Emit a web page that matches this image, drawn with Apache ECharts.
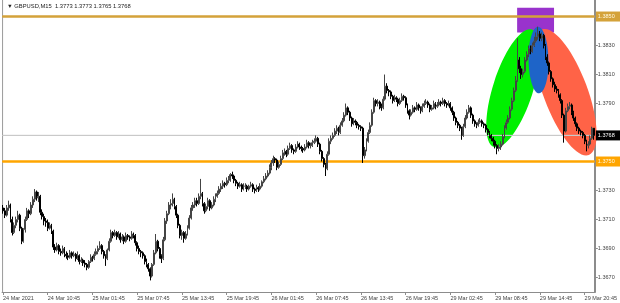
<!DOCTYPE html>
<html><head><meta charset="utf-8">
<script src="https://cdn.jsdelivr.net/npm/echarts@6/dist/echarts.min.js"></script>
<style>html,body{margin:0;padding:0;background:#fff}#c{width:620px;height:303px}</style>
</head><body><div id="c"></div>
<script>
const symbol = 'GBPUSD,M15';
const tickLabels = ['24 Mar 2021','24 Mar 10:45','25 Mar 01:45','25 Mar 07:45','25 Mar 13:45','25 Mar 19:45','26 Mar 01:45','26 Mar 07:45','26 Mar 13:45','26 Mar 19:45','29 Mar 02:45','29 Mar 08:45','29 Mar 14:45','29 Mar 20:45'];
const labelStep = 24;
const priceTicks = [1.3670, 1.3690, 1.3710, 1.3730, 1.3790, 1.3810, 1.3830];
const resistanceLevel = 1.3850;
const supportLevel = 1.3750;
const bidPrice = 1.3768;
// [open, close, low, high]
const ohlc = [
[1.3718,1.3716,1.3714,1.3720],[1.3716,1.3713,1.3711,1.3718],[1.3713,1.3718,1.3712,1.3720],[1.3718,1.3720,1.3716,1.3723],[1.3720,1.3710,1.3708,1.3721],
[1.3710,1.3701,1.3699,1.3712],[1.3701,1.3706,1.3700,1.3708],[1.3706,1.3710,1.3704,1.3712],[1.3710,1.3713,1.3708,1.3716],[1.3713,1.3704,1.3702,1.3714],
[1.3704,1.3695,1.3693,1.3705],[1.3695,1.3703,1.3694,1.3704],[1.3703,1.3710,1.3701,1.3712],[1.3710,1.3716,1.3709,1.3718],[1.3716,1.3714,1.3711,1.3717],
[1.3714,1.3720,1.3713,1.3722],[1.3720,1.3724,1.3718,1.3726],[1.3724,1.3729,1.3722,1.3731],[1.3729,1.3725,1.3723,1.3730],[1.3725,1.3726,1.3722,1.3729],
[1.3726,1.3715,1.3713,1.3727],[1.3715,1.3712,1.3710,1.3717],[1.3712,1.3709,1.3706,1.3714],[1.3709,1.3708,1.3705,1.3711],[1.3708,1.3704,1.3702,1.3710],
[1.3704,1.3706,1.3703,1.3708],[1.3706,1.3702,1.3700,1.3707],[1.3702,1.3691,1.3689,1.3703],[1.3691,1.3689,1.3687,1.3693],[1.3689,1.3692,1.3688,1.3694],
[1.3692,1.3688,1.3686,1.3693],[1.3688,1.3687,1.3685,1.3690],[1.3687,1.3690,1.3686,1.3692],[1.3690,1.3686,1.3684,1.3691],[1.3686,1.3685,1.3683,1.3688],
[1.3685,1.3684,1.3682,1.3687],[1.3684,1.3687,1.3683,1.3689],[1.3687,1.3685,1.3683,1.3688],[1.3685,1.3686,1.3684,1.3688],[1.3686,1.3683,1.3681,1.3687],
[1.3683,1.3685,1.3682,1.3688],[1.3685,1.3681,1.3679,1.3686],[1.3681,1.3682,1.3680,1.3684],[1.3682,1.3680,1.3678,1.3683],[1.3680,1.3679,1.3677,1.3682],
[1.3679,1.3677,1.3675,1.3680],[1.3677,1.3681,1.3676,1.3682],[1.3681,1.3684,1.3680,1.3686],[1.3684,1.3683,1.3681,1.3685],[1.3683,1.3686,1.3682,1.3688],
[1.3686,1.3688,1.3685,1.3690],[1.3688,1.3690,1.3686,1.3692],[1.3690,1.3692,1.3689,1.3695],[1.3692,1.3688,1.3686,1.3693],[1.3688,1.3685,1.3683,1.3689],
[1.3685,1.3683,1.3678,1.3686],[1.3683,1.3689,1.3682,1.3690],[1.3689,1.3695,1.3688,1.3697],[1.3695,1.3701,1.3694,1.3703],[1.3701,1.3699,1.3697,1.3702],
[1.3699,1.3701,1.3698,1.3703],[1.3701,1.3698,1.3696,1.3702],[1.3698,1.3700,1.3697,1.3702],[1.3700,1.3696,1.3694,1.3701],[1.3696,1.3698,1.3695,1.3700],
[1.3698,1.3695,1.3693,1.3699],[1.3695,1.3699,1.3694,1.3701],[1.3699,1.3698,1.3696,1.3700],[1.3698,1.3697,1.3695,1.3699],[1.3697,1.3700,1.3696,1.3702],
[1.3700,1.3699,1.3697,1.3701],[1.3699,1.3694,1.3692,1.3700],[1.3694,1.3690,1.3688,1.3695],[1.3690,1.3688,1.3686,1.3692],[1.3688,1.3687,1.3684,1.3689],
[1.3687,1.3685,1.3683,1.3688],[1.3685,1.3681,1.3679,1.3686],[1.3681,1.3679,1.3677,1.3683],[1.3679,1.3676,1.3674,1.3680],[1.3676,1.3671,1.3668,1.3677],
[1.3671,1.3679,1.3670,1.3680],[1.3679,1.3687,1.3678,1.3689],[1.3687,1.3695,1.3686,1.3700],[1.3695,1.3690,1.3688,1.3696],[1.3690,1.3685,1.3683,1.3691],
[1.3685,1.3683,1.3680,1.3686],[1.3683,1.3696,1.3682,1.3698],[1.3696,1.3709,1.3695,1.3711],[1.3709,1.3714,1.3707,1.3716],[1.3714,1.3720,1.3713,1.3722],
[1.3720,1.3721,1.3717,1.3724],[1.3721,1.3724,1.3719,1.3728],[1.3724,1.3719,1.3717,1.3725],[1.3719,1.3713,1.3711,1.3720],[1.3713,1.3706,1.3704,1.3714],
[1.3706,1.3699,1.3697,1.3707],[1.3699,1.3701,1.3696,1.3703],[1.3701,1.3697,1.3694,1.3702],[1.3697,1.3700,1.3696,1.3702],[1.3700,1.3704,1.3699,1.3706],
[1.3704,1.3711,1.3703,1.3713],[1.3711,1.3718,1.3710,1.3720],[1.3718,1.3720,1.3716,1.3722],[1.3720,1.3723,1.3718,1.3725],[1.3723,1.3721,1.3719,1.3725],
[1.3721,1.3726,1.3720,1.3728],[1.3726,1.3728,1.3724,1.3738],[1.3728,1.3721,1.3719,1.3729],[1.3721,1.3716,1.3714,1.3722],[1.3716,1.3719,1.3715,1.3721],
[1.3719,1.3723,1.3717,1.3725],[1.3723,1.3718,1.3716,1.3724],[1.3718,1.3720,1.3717,1.3722],[1.3720,1.3724,1.3719,1.3726],[1.3724,1.3726,1.3722,1.3728],
[1.3726,1.3728,1.3725,1.3730],[1.3728,1.3731,1.3727,1.3733],[1.3731,1.3733,1.3729,1.3735],[1.3733,1.3735,1.3731,1.3737],[1.3735,1.3734,1.3732,1.3736],
[1.3734,1.3737,1.3733,1.3739],[1.3737,1.3738,1.3735,1.3740],[1.3738,1.3741,1.3736,1.3742],[1.3741,1.3740,1.3738,1.3743],[1.3740,1.3737,1.3735,1.3741],
[1.3737,1.3735,1.3733,1.3738],[1.3735,1.3733,1.3731,1.3736],[1.3733,1.3734,1.3732,1.3736],[1.3734,1.3731,1.3729,1.3735],[1.3731,1.3733,1.3730,1.3735],
[1.3733,1.3733,1.3731,1.3735],[1.3733,1.3731,1.3729,1.3734],[1.3731,1.3733,1.3730,1.3734],[1.3733,1.3734,1.3732,1.3736],[1.3734,1.3731,1.3729,1.3735],
[1.3731,1.3730,1.3728,1.3732],[1.3730,1.3732,1.3729,1.3734],[1.3732,1.3731,1.3729,1.3733],[1.3731,1.3733,1.3730,1.3735],[1.3733,1.3736,1.3732,1.3737],
[1.3736,1.3738,1.3735,1.3740],[1.3738,1.3740,1.3737,1.3742],[1.3740,1.3742,1.3739,1.3744],[1.3742,1.3746,1.3741,1.3748],[1.3746,1.3749,1.3744,1.3751],
[1.3749,1.3752,1.3747,1.3754],[1.3752,1.3751,1.3749,1.3753],[1.3751,1.3746,1.3744,1.3752],[1.3746,1.3748,1.3745,1.3750],[1.3748,1.3752,1.3747,1.3754],
[1.3752,1.3756,1.3751,1.3758],[1.3756,1.3757,1.3754,1.3759],[1.3757,1.3755,1.3753,1.3758],[1.3755,1.3759,1.3754,1.3761],[1.3759,1.3761,1.3758,1.3763],
[1.3761,1.3758,1.3756,1.3762],[1.3758,1.3757,1.3755,1.3759],[1.3757,1.3760,1.3756,1.3762],[1.3760,1.3762,1.3759,1.3764],[1.3762,1.3760,1.3758,1.3763],
[1.3760,1.3759,1.3757,1.3761],[1.3759,1.3758,1.3756,1.3760],[1.3758,1.3760,1.3757,1.3762],[1.3760,1.3763,1.3759,1.3765],[1.3763,1.3761,1.3759,1.3764],
[1.3761,1.3761,1.3759,1.3763],[1.3761,1.3763,1.3760,1.3765],[1.3763,1.3764,1.3762,1.3766],[1.3764,1.3766,1.3763,1.3768],[1.3766,1.3762,1.3760,1.3767],
[1.3762,1.3757,1.3755,1.3763],[1.3757,1.3752,1.3750,1.3758],[1.3752,1.3748,1.3746,1.3753],[1.3748,1.3745,1.3740,1.3749],[1.3745,1.3755,1.3744,1.3757],
[1.3755,1.3764,1.3754,1.3766],[1.3764,1.3766,1.3762,1.3768],[1.3766,1.3768,1.3765,1.3770],[1.3768,1.3771,1.3767,1.3773],[1.3771,1.3773,1.3769,1.3775],
[1.3773,1.3770,1.3768,1.3774],[1.3770,1.3775,1.3769,1.3777],[1.3775,1.3778,1.3774,1.3780],[1.3778,1.3782,1.3777,1.3784],[1.3782,1.3787,1.3781,1.3790],
[1.3787,1.3784,1.3782,1.3788],[1.3784,1.3780,1.3778,1.3785],[1.3780,1.3776,1.3774,1.3781],[1.3776,1.3778,1.3775,1.3780],[1.3778,1.3777,1.3775,1.3779],
[1.3777,1.3775,1.3773,1.3778],[1.3775,1.3774,1.3772,1.3776],[1.3774,1.3773,1.3771,1.3775],[1.3773,1.3754,1.3749,1.3774],[1.3754,1.3758,1.3752,1.3760],
[1.3758,1.3764,1.3757,1.3766],[1.3764,1.3770,1.3763,1.3772],[1.3770,1.3775,1.3769,1.3777],[1.3775,1.3784,1.3774,1.3786],[1.3784,1.3792,1.3783,1.3794],
[1.3792,1.3790,1.3788,1.3793],[1.3790,1.3791,1.3788,1.3793],[1.3791,1.3788,1.3786,1.3792],[1.3788,1.3787,1.3785,1.3790],[1.3787,1.3793,1.3786,1.3795],
[1.3793,1.3802,1.3792,1.3810],[1.3802,1.3799,1.3797,1.3804],[1.3799,1.3798,1.3795,1.3800],[1.3798,1.3795,1.3793,1.3799],[1.3795,1.3792,1.3790,1.3796],
[1.3792,1.3794,1.3791,1.3796],[1.3794,1.3793,1.3791,1.3795],[1.3793,1.3790,1.3788,1.3794],[1.3790,1.3792,1.3789,1.3794],[1.3792,1.3795,1.3791,1.3797],
[1.3795,1.3794,1.3792,1.3796],[1.3794,1.3789,1.3787,1.3795],[1.3789,1.3785,1.3783,1.3790],[1.3785,1.3782,1.3779,1.3786],[1.3782,1.3784,1.3781,1.3786],
[1.3784,1.3787,1.3783,1.3789],[1.3787,1.3786,1.3784,1.3788],[1.3786,1.3789,1.3785,1.3791],[1.3789,1.3787,1.3785,1.3790],[1.3787,1.3785,1.3783,1.3788],
[1.3785,1.3788,1.3784,1.3790],[1.3788,1.3790,1.3787,1.3792],[1.3790,1.3791,1.3789,1.3793],[1.3791,1.3789,1.3787,1.3792],[1.3789,1.3786,1.3784,1.3790],
[1.3786,1.3787,1.3785,1.3789],[1.3787,1.3790,1.3786,1.3792],[1.3790,1.3788,1.3786,1.3791],[1.3788,1.3789,1.3787,1.3791],[1.3789,1.3791,1.3788,1.3793],
[1.3791,1.3790,1.3788,1.3792],[1.3790,1.3792,1.3789,1.3794],[1.3792,1.3790,1.3788,1.3793],[1.3790,1.3789,1.3787,1.3791],[1.3789,1.3790,1.3788,1.3792],
[1.3790,1.3787,1.3785,1.3791],[1.3787,1.3784,1.3782,1.3788],[1.3784,1.3780,1.3778,1.3785],[1.3780,1.3777,1.3775,1.3781],[1.3777,1.3775,1.3773,1.3778],
[1.3775,1.3773,1.3771,1.3776],[1.3773,1.3768,1.3765,1.3774],[1.3768,1.3774,1.3767,1.3776],[1.3774,1.3780,1.3773,1.3782],[1.3780,1.3784,1.3779,1.3786],
[1.3784,1.3787,1.3783,1.3789],[1.3787,1.3782,1.3780,1.3788],[1.3782,1.3778,1.3776,1.3783],[1.3778,1.3776,1.3774,1.3779],[1.3776,1.3775,1.3773,1.3777],
[1.3775,1.3777,1.3774,1.3779],[1.3777,1.3778,1.3776,1.3780],[1.3778,1.3776,1.3774,1.3779],[1.3776,1.3775,1.3773,1.3777],[1.3775,1.3772,1.3770,1.3776],
[1.3772,1.3770,1.3768,1.3773],[1.3770,1.3768,1.3766,1.3771],[1.3768,1.3766,1.3764,1.3769],[1.3766,1.3764,1.3761,1.3767],[1.3764,1.3761,1.3759,1.3765],
[1.3761,1.3759,1.3755,1.3762],[1.3759,1.3760,1.3757,1.3762],[1.3760,1.3762,1.3758,1.3764],[1.3762,1.3767,1.3761,1.3769],[1.3767,1.3773,1.3766,1.3775],
[1.3773,1.3777,1.3772,1.3779],[1.3777,1.3780,1.3776,1.3782],[1.3780,1.3786,1.3779,1.3788],[1.3786,1.3792,1.3785,1.3794],[1.3792,1.3799,1.3791,1.3801],
[1.3799,1.3806,1.3798,1.3809],[1.3806,1.3820,1.3805,1.3835],[1.3820,1.3814,1.3811,1.3822],[1.3814,1.3810,1.3807,1.3816],[1.3810,1.3812,1.3808,1.3814],
[1.3812,1.3820,1.3811,1.3822],[1.3820,1.3824,1.3819,1.3826],[1.3824,1.3828,1.3822,1.3830],[1.3828,1.3826,1.3824,1.3830],[1.3826,1.3830,1.3825,1.3832],
[1.3830,1.3833,1.3829,1.3836],[1.3833,1.3836,1.3832,1.3839],[1.3836,1.3838,1.3834,1.3843],[1.3838,1.3835,1.3833,1.3840],[1.3835,1.3837,1.3833,1.3839],
[1.3837,1.3830,1.3828,1.3838],[1.3830,1.3822,1.3820,1.3831],[1.3822,1.3818,1.3816,1.3824],[1.3818,1.3812,1.3810,1.3819],[1.3812,1.3807,1.3805,1.3813],
[1.3807,1.3803,1.3801,1.3808],[1.3803,1.3800,1.3798,1.3805],[1.3800,1.3799,1.3797,1.3802],[1.3799,1.3796,1.3794,1.3800],[1.3796,1.3792,1.3790,1.3797],
[1.3792,1.3782,1.3780,1.3793],[1.3782,1.3771,1.3763,1.3783],[1.3771,1.3785,1.3770,1.3787],[1.3785,1.3788,1.3784,1.3790],[1.3788,1.3789,1.3786,1.3791],
[1.3789,1.3784,1.3782,1.3790],[1.3784,1.3780,1.3778,1.3785],[1.3780,1.3776,1.3774,1.3781],[1.3776,1.3773,1.3771,1.3777],[1.3773,1.3771,1.3769,1.3774],
[1.3771,1.3770,1.3768,1.3772],[1.3770,1.3768,1.3766,1.3771],[1.3768,1.3764,1.3762,1.3769],[1.3764,1.3761,1.3757,1.3765],[1.3761,1.3762,1.3759,1.3764],
[1.3762,1.3766,1.3761,1.3768],[1.3766,1.3773,1.3765,1.3774],[1.3773,1.3768,1.3765,1.3773]
];
const categories = ohlc.map((_, i) => String(i));

// annotation shapes, defined in data coordinates (bar index, price)
const zoneBox = { from: [275.8, 1.3856], to: [295.6, 1.3839], color: '#9933cc' };
const ellipses = [
  { top: [283.8, 1.3841], bottom: [263.5, 1.3760], halfWidth: 20, color: '#00f000' },
  { top: [289.2, 1.3841], bottom: [314.3, 1.37545], halfWidth: 22, color: '#ff6347' },
  { top: [287.0, 1.3843], bottom: [287.6, 1.3797], halfWidth: 10, color: '#1e64c8' }
];
// horizontal levels: value, line colour, width, label background, label text colour
const levels = [
  { value: bidPrice, color: '#c8c8c8', width: 1, bg: '#000000', text: '#ffffff' },
  { value: resistanceLevel, color: '#d4a23a', width: 2, bg: '#d4a23a', text: '#fff8e0' },
  { value: supportLevel, color: '#ffa500', width: 2, bg: '#ffa500', text: '#fff8e0' }
];

const FONT = 'Liberation Sans, Arial, sans-serif';
const last = ohlc[ohlc.length - 1];
const f4 = v => v.toFixed(4);
const titleText = '\u25BC ' + symbol + '  ' + [last[0], last[3], last[2], last[1]].map(f4).join(' ');
const firstIdx = 0, lastIdx = ohlc.length - 1;

const chart = echarts.init(document.getElementById('c'), null, { renderer: 'canvas' });

const levelSeries = levels.map(l => ({
  type: 'line', data: [[firstIdx, l.value], [lastIdx, l.value]],
  symbol: 'none', silent: true, animation: false, z: 3,
  lineStyle: { color: l.color, width: l.width }
}));

chart.setOption({
  animation: false,
  backgroundColor: '#ffffff',
  title: {
    text: titleText, left: 2, top: -2,
    textStyle: { fontSize: 5.8, fontWeight: 'normal', color: '#222', fontFamily: FONT }
  },
  grid: { left: 1, right: 24, top: 0, bottom: 11 },
  xAxis: {
    type: 'category', data: categories, boundaryGap: true,
    axisLine: { show: true, lineStyle: { color: '#8c8c8c', width: 1 } },
    axisTick: { show: true, interval: (i) => i % labelStep === 0, alignWithLabel: true, length: 3, lineStyle: { color: '#8c8c8c' } },
    axisLabel: {
      interval: (i) => i % labelStep === 0,
      formatter: (v, i) => tickLabels[i / labelStep] || '',
      align: 'left', fontSize: 5.5, color: '#444', margin: 3, fontFamily: FONT
    },
    splitLine: { show: false }
  },
  yAxis: {
    type: 'value', position: 'right', min: 1.3660, max: 1.38614, scale: true,
    axisLine: { show: true, lineStyle: { color: '#8c8c8c', width: 2 } },
    axisTick: { show: true, customValues: priceTicks, length: 3, lineStyle: { color: '#8c8c8c' } },
    axisLabel: { customValues: priceTicks, formatter: v => f4(v), fontSize: 5.5, color: '#444', margin: 3, fontFamily: FONT },
    splitLine: { show: false }
  },
  series: levelSeries.concat([{
    type: 'candlestick', data: ohlc, barWidth: 1.4,
    itemStyle: { color: '#ffffff', color0: '#000000', borderColor: '#444444', borderColor0: '#000000', borderWidth: 1 },
    z: 5
  }])
});

function px(bar, price) {
  const a = chart.convertToPixel({ gridIndex: 0 }, [0, price]);
  const b = chart.convertToPixel({ gridIndex: 0 }, [1, price]);
  return [a[0] + bar * (b[0] - a[0]), a[1]];
}

const g = [];
const topLeft = px(-0.5, 1.38614), bottomLeft = px(-0.5, 1.3660);
g.push({ type: 'line', shape: { x1: topLeft[0] + 0.5, y1: topLeft[1], x2: bottomLeft[0] + 0.5, y2: bottomLeft[1] }, style: { stroke: '#9a9a9a', lineWidth: 1 }, z: 1, silent: true });
const b1 = px(zoneBox.from[0], zoneBox.from[1]), b2 = px(zoneBox.to[0], zoneBox.to[1]);
g.push({ type: 'rect', shape: { x: b1[0], y: b1[1], width: b2[0] - b1[0], height: b2[1] - b1[1] }, style: { fill: zoneBox.color }, z: 1, silent: true });
ellipses.forEach(e => {
  const t = px(e.top[0], e.top[1]), bt = px(e.bottom[0], e.bottom[1]);
  const cx = (t[0] + bt[0]) / 2, cy = (t[1] + bt[1]) / 2;
  const half = Math.hypot(t[0] - bt[0], t[1] - bt[1]) / 2;
  const theta = Math.atan2(t[0] - bt[0], bt[1] - t[1]);
  g.push({ type: 'ellipse', x: cx, y: cy, rotation: -theta, shape: { cx: 0, cy: 0, rx: e.halfWidth, ry: half }, style: { fill: e.color }, z: 2, silent: true });
});
// level edge segments (extend to the plot edges) and right-side price tags
levels.forEach(l => {
  const a = px(-0.5, l.value), b = px(lastIdx + 0.5, l.value);
  g.push({ type: 'line', shape: { x1: a[0], y1: a[1], x2: b[0], y2: b[1] }, style: { stroke: l.color, lineWidth: l.width }, z: 3, silent: true });
  g.push({ type: 'rect', shape: { x: b[0] + 1, y: b[1] - 5, width: 620 - b[0] - 1, height: 10 }, style: { fill: l.bg }, z: 10, silent: true });
  g.push({ type: 'text', x: b[0] + 3, y: b[1], style: { text: f4(l.value), fill: l.text, font: '5.5px ' + FONT, verticalAlign: 'middle', align: 'left' }, z: 11, silent: true });
});
chart.setOption({ graphic: g });
</script>
</body></html>
